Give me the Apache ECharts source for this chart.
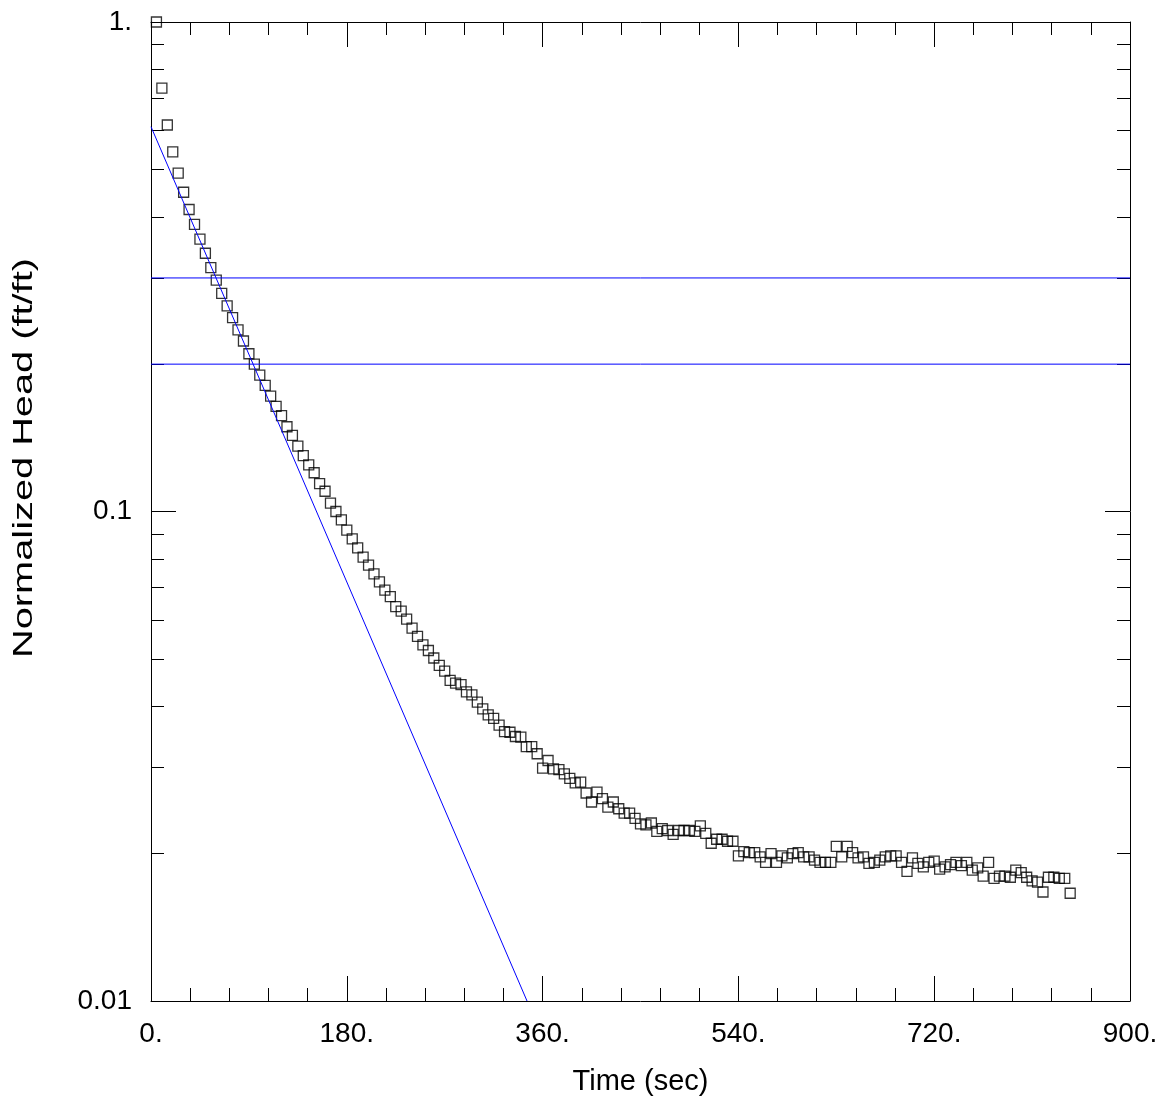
<!DOCTYPE html>
<html>
<head>
<meta charset="utf-8">
<script src="https://cdn.jsdelivr.net/npm/echarts@6/dist/echarts.min.js"></script>
<style>
html,body{margin:0;padding:0;background:#fff;}
#chart{width:1162px;height:1103px;}
</style>
</head>
<body>
<div id="chart"></div>
<script>
// Observed data (time in sec, normalized head ft/ft)
const times = [
  5,10,15,20,25,30,35,40,45,50,
  55,60,65,70,75,80,85,90,95,100,
  105,110,115,120,125,130,135,140,145,150,
  155,160,165,170,175,180,185,190,195,200,
  205,210,215,220,225,230,235,240,245,250,
  255,260,265,270,275,280,285,290,295,300,
  305,310,315,320,325,330,335,340,345,350,
  355,360,365,370,375,380,385,390,395,400,
  405,410,415,420,425,430,435,440,445,450,
  455,460,465,470,475,480,485,490,495,500,
  505,510,515,520,525,530,535,540,545,550,
  555,560,565,570,575,580,585,590,595,600,
  605,610,615,620,625,630,635,640,645,650,
  655,660,665,670,675,680,685,690,695,700,
  705,710,715,720,725,730,735,740,745,750,
  755,760,765,770,775,780,785,790,795,800,
  805,810,815,820,825,830,835,840,845
];
const heads = [
  1.0, 0.733, 0.616, 0.543, 0.491, 0.449, 0.414, 0.386, 0.360, 0.337,
  0.315, 0.297, 0.279, 0.263, 0.249, 0.235, 0.223, 0.210, 0.200, 0.190,
  0.181, 0.172, 0.164, 0.157, 0.149, 0.143, 0.136, 0.130, 0.1245, 0.120,
  0.114, 0.110, 0.104, 0.100, 0.0961, 0.0916, 0.0879, 0.0843, 0.0807, 0.0777,
  0.0746, 0.0718, 0.0691, 0.0670, 0.0639, 0.0626, 0.0603, 0.0578, 0.0556, 0.0534,
  0.0520, 0.0502, 0.0485, 0.0472, 0.0452, 0.0446, 0.0443, 0.0428, 0.0422, 0.0408,
  0.0395, 0.0384, 0.0378, 0.0366, 0.0355, 0.0354, 0.0347, 0.0346, 0.0331, 0.0331,
  0.0320, 0.0299, 0.0310, 0.0298, 0.0297, 0.0291, 0.0285, 0.0279, 0.0280, 0.0266,
  0.0255, 0.0267, 0.0259, 0.0249, 0.0255, 0.0247, 0.0242, 0.0242, 0.0236, 0.0230,
  0.0229, 0.0231, 0.0222, 0.0225, 0.0223, 0.0219, 0.0223, 0.0223, 0.0223, 0.0222,
  0.0228, 0.0220, 0.0210, 0.0214, 0.0214, 0.0212, 0.0212, 0.0198, 0.0202, 0.0201,
  0.0201, 0.0197, 0.0192, 0.0200, 0.0192, 0.0198, 0.0196, 0.0200, 0.0201, 0.0197,
  0.0197, 0.0194, 0.0192, 0.0192, 0.0192, 0.0207, 0.0197, 0.0207, 0.0201, 0.0196,
  0.0197, 0.0191, 0.0192, 0.0194, 0.0197, 0.0198, 0.0198, 0.0192, 0.0184, 0.0196,
  0.0191, 0.0188, 0.0192, 0.0193, 0.0186, 0.0188, 0.0190, 0.0192, 0.0189, 0.0192,
  0.0185, 0.0187, 0.0180, 0.0192, 0.0178, 0.0180, 0.0180, 0.0179, 0.0185, 0.0183,
  0.0179, 0.0176, 0.0175, 0.0167, 0.0179, 0.0179, 0.0178, 0.0178, 0.0166
];
// Straight-line fit (end points)
const fitTimes = [0, 345.7];
const fitHeads = [0.611, 0.01];
// Horizontal reference lines
const refLevels = [0.3, 0.2];
const refTimes = [0, 900];
// Axis tick labels
const xTickLabels = ['0.', '180.', '360.', '540.', '720.', '900.'];
const yTickLabels = ['0.01', '0.1', '1.'];
const yMinorTicks = [0.02,0.03,0.04,0.05,0.06,0.07,0.08,0.09,0.2,0.3,0.4,0.5,0.6,0.7,0.8,0.9];

const FONT = '"Liberation Sans", Arial, Helvetica, sans-serif';
const BLUE = '#0000ff';

const chart = echarts.init(document.getElementById('chart'), null, {renderer: 'canvas'});

const baseX = (pos, labels) => ({
  type: 'value', position: pos, min: 0, max: 900, interval: 180,
  axisLine: {show: true, onZero: false, lineStyle: {color: '#000', width: 1}},
  axisTick: {show: true, inside: true, length: 25, lineStyle: {color: '#000', width: 1}},
  minorTick: {show: true, splitNumber: 5, length: 13, lineStyle: {color: '#000', width: 1}},
  splitLine: {show: false},
  minorSplitLine: {show: false},
  axisLabel: labels ? {
    show: true, margin: 19, fontSize: 28, fontFamily: FONT, color: '#000',
    formatter: (v, i) => xTickLabels[i]
  } : {show: false}
});

const baseY = (pos, labels, minor) => ({
  type: 'log', logBase: 10, position: pos, min: 0.01, max: 1,
  axisLine: {show: !minor, onZero: false, lineStyle: {color: '#000', width: 1}},
  axisTick: minor
    ? {show: true, inside: true, length: 13, customValues: yMinorTicks, lineStyle: {color: '#000', width: 1}}
    : {show: true, inside: true, length: 25, lineStyle: {color: '#000', width: 1}},
  splitLine: {show: false},
  minorTick: {show: false},
  axisLabel: labels ? {
    show: true, margin: 19, fontSize: 28, fontFamily: FONT, color: '#000',
    formatter: (v, i) => yTickLabels[i]
  } : {show: false}
});

const option = {
  animation: false,
  backgroundColor: '#fff',
  grid: {left: 151, top: 22, width: 979, height: 979, containLabel: false},
  xAxis: [
    Object.assign(baseX('bottom', true), {
      name: 'Time (sec)', nameLocation: 'middle', nameGap: 66,
      nameTextStyle: {fontSize: 29, fontFamily: FONT, color: '#000'}
    }),
    baseX('top', false)
  ],
  yAxis: [
    baseY('left', true, false),
    baseY('left', false, true),
    baseY('right', false, false),
    baseY('right', false, true)
  ],
  graphic: [{
    type: 'text', x: 24, y: 458, rotation: Math.PI / 2, scaleX: 1.42,
    style: {text: 'Normalized Head (ft/ft)', fontSize: 28, fontFamily: FONT, fill: '#000',
            align: 'center', verticalAlign: 'middle'}
  }],
  series: [
    {
      type: 'line', xAxisIndex: 0, yAxisIndex: 0, symbol: 'none', clip: true,
      lineStyle: {color: BLUE, width: 1},
      data: refTimes.map(t => [t, refLevels[0]])
    },
    {
      type: 'line', xAxisIndex: 0, yAxisIndex: 0, symbol: 'none', clip: true,
      lineStyle: {color: BLUE, width: 1},
      data: refTimes.map(t => [t, refLevels[1]])
    },
    {
      type: 'line', xAxisIndex: 0, yAxisIndex: 0, symbol: 'none', clip: true,
      lineStyle: {color: BLUE, width: 1},
      data: fitTimes.map((t, i) => [t, fitHeads[i]])
    },
    {
      type: 'scatter', xAxisIndex: 0, yAxisIndex: 0, symbol: 'rect', symbolSize: 10, clip: true,
      itemStyle: {color: 'rgba(0,0,0,0)', borderColor: '#000', borderWidth: 1.3},
      data: times.map((t, i) => [t, heads[i]])
    }
  ]
};
chart.setOption(option);
</script>
</body>
</html>
